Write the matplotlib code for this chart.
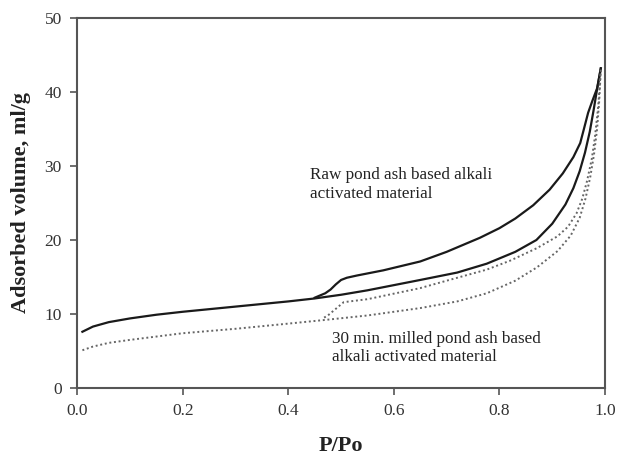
import numpy as np
import matplotlib
matplotlib.use("Agg")
import matplotlib.pyplot as plt

# raw pond ash - adsorption (lower solid) and desorption (upper solid)
raw_ads_x = [0.01, 0.03, 0.06, 0.10, 0.15, 0.20, 0.30, 0.40, 0.45, 0.50, 0.55, 0.65,
             0.72, 0.776, 0.83, 0.87, 0.90, 0.925, 0.94, 0.952, 0.962, 0.971, 0.978, 0.985, 0.992]
raw_ads_y = [7.6, 8.3, 8.9, 9.4, 9.9, 10.3, 11.0, 11.7, 12.1, 12.6, 13.2, 14.6,
             15.6, 16.8, 18.4, 20.0, 22.2, 24.8, 27.0, 29.3, 31.8, 34.6, 37.4, 40.4, 43.2]
raw_des_x = [0.992, 0.985, 0.976, 0.968, 0.96, 0.953, 0.94, 0.92, 0.895, 0.864, 0.83, 0.80,
             0.763, 0.70, 0.65, 0.58, 0.53, 0.511, 0.50, 0.49, 0.48, 0.47, 0.46, 0.45]
raw_des_y = [43.2, 40.5, 38.8, 37.2, 35.0, 33.1, 31.2, 29.0, 26.8, 24.7, 22.9, 21.6,
             20.3, 18.4, 17.1, 15.9, 15.2, 14.9, 14.6, 14.0, 13.3, 12.8, 12.5, 12.2]

# 30 min milled pond ash - adsorption (lower dotted) and desorption (upper dotted)
mil_ads_x = [0.01, 0.03, 0.06, 0.10, 0.20, 0.30, 0.40, 0.47, 0.55, 0.65, 0.72, 0.776,
             0.83, 0.871, 0.91, 0.935, 0.952, 0.963, 0.972, 0.979, 0.985, 0.989, 0.992]
mil_ads_y = [5.1, 5.6, 6.1, 6.5, 7.4, 8.0, 8.7, 9.2, 9.8, 10.8, 11.7, 12.8,
             14.5, 16.3, 18.5, 20.6, 23.0, 25.6, 28.5, 31.5, 35.0, 38.8, 43.0]
mil_des_x = [0.992, 0.987, 0.981, 0.975, 0.966, 0.957, 0.946, 0.93, 0.91, 0.871, 0.82,
             0.776, 0.70, 0.65, 0.55, 0.505, 0.495, 0.485, 0.475, 0.465]
mil_des_y = [43.0, 38.0, 34.0, 31.0, 28.0, 25.6, 23.6, 21.8, 20.5, 18.9, 17.2,
             16.0, 14.5, 13.5, 12.0, 11.6, 11.0, 10.4, 9.8, 9.4]

plt.rcParams['font.family'] = ['Liberation Serif', 'DejaVu Serif']

fig = plt.figure(figsize=(6.17, 4.57), dpi=100)
ax = fig.add_axes([0.125, 0.151, 0.8556, 0.8096])

ax.plot(raw_ads_x, raw_ads_y, color='#1a1a1a', lw=1.6)
ax.plot(raw_des_x, raw_des_y, color='#1a1a1a', lw=1.6)
ax.plot(mil_ads_x, mil_ads_y, color='#666666', lw=1.4, ls=(0, (1, 1.4)))
ax.plot(mil_des_x, mil_des_y, color='#666666', lw=1.4, ls=(0, (1, 1.4)))

ax.set_xlim(0, 1.0)
ax.set_ylim(0, 50)
ax.set_xticks(np.arange(0, 1.01, 0.2))
ax.set_xticklabels(['0.0', '0.2', '0.4', '0.6', '0.8', '1.0'])
ax.set_yticks(range(0, 51, 10))

for s in ax.spines.values():
    s.set_color('#555555')
    s.set_linewidth(1.5)
ax.tick_params(axis='both', direction='out', length=5, width=1.2, color='#555555',
               labelsize=12.5, labelcolor='#333333', pad=6)
ax.tick_params(top=False, right=False)

ax.set_xlabel('P/Po', fontsize=16, fontweight='bold', color='#222222', labelpad=12)
ax.set_ylabel('Adsorbed volume, ml/g', fontsize=16, fontweight='bold', color='#222222', labelpad=10)

ax.text(0.441, 29.8, 'Raw pond ash based alkali\nactivated material', fontsize=12.3,
        color='#222222', va='top', ha='left', linespacing=1.2)
ax.text(0.483, 7.7, '30 min. milled pond ash based\nalkali activated material', fontsize=12.3,
        color='#222222', va='top', ha='left', linespacing=1.2)

fig.savefig('out.png', dpi=100)
